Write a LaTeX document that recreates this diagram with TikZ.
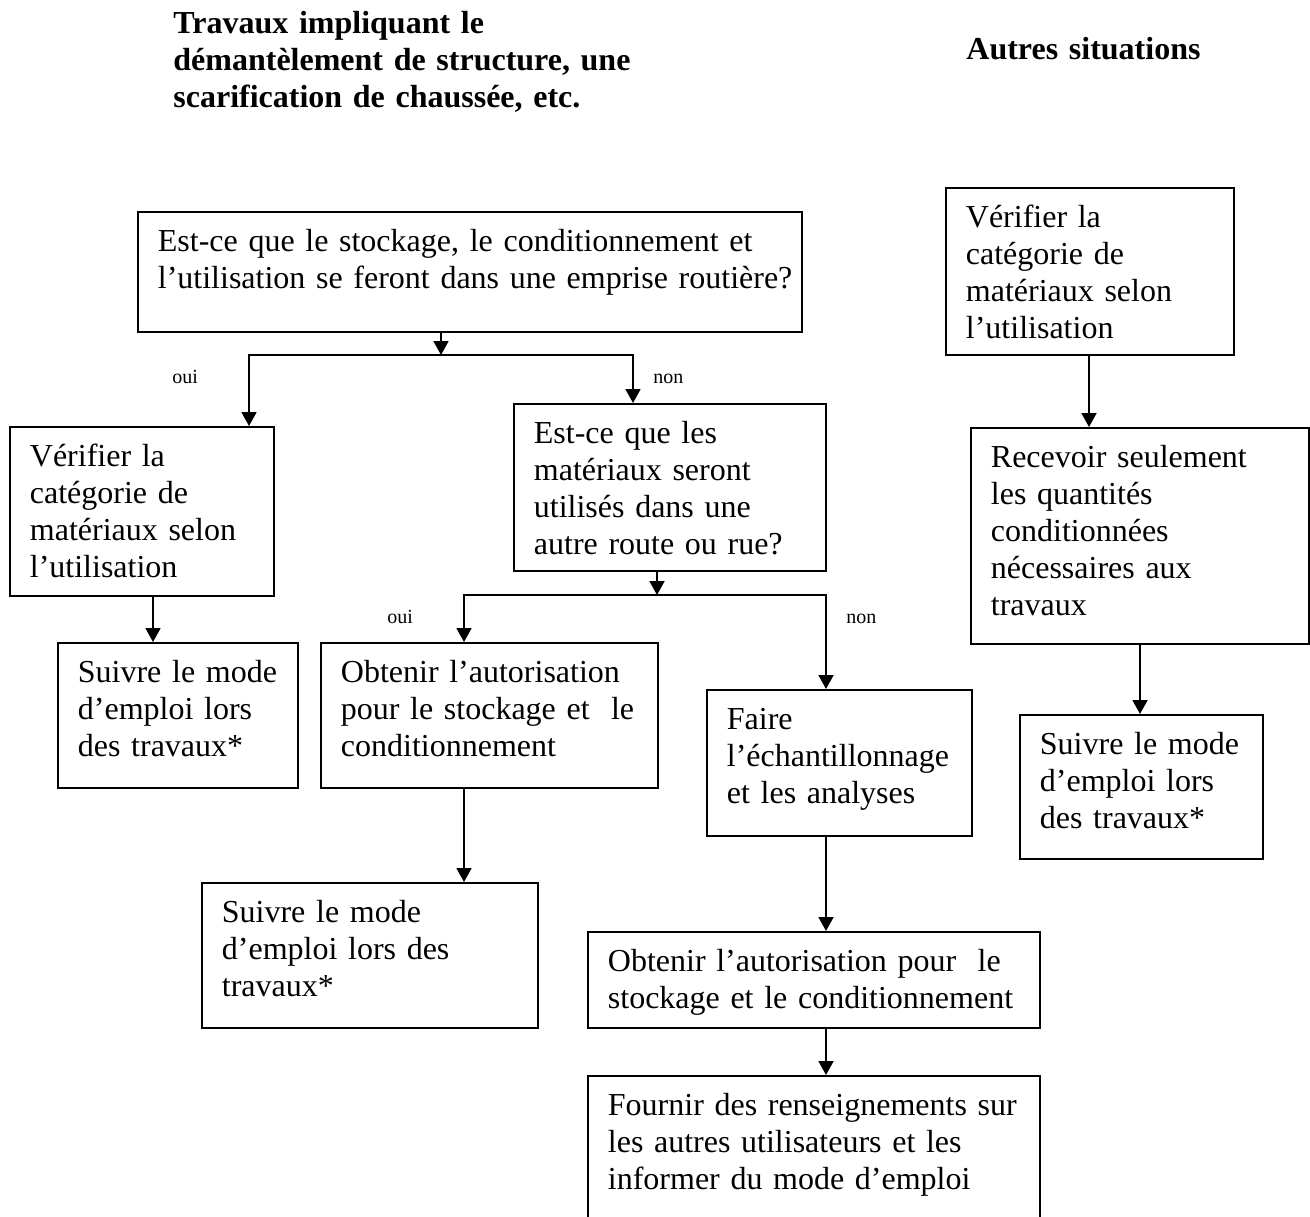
\documentclass[tikz,border=0pt]{standalone}
\usepackage{fontspec}
\setmainfont{Liberation Serif}
\usepackage{tikz}
\usetikzlibrary{arrows.meta}
\tikzset{
    boite/.style={draw, line width=0.9pt, anchor=north west, inner xsep=0pt, inner ysep=0pt,
        align=left, text height=20pt, font=\fontsize{16}{18.5}\selectfont,
        execute at begin node={\leftskip=10pt\relax}},
    titre/.style={anchor=base west, inner sep=0pt, align=left, text width=250pt,
        font=\fontsize{16}{18.5}\selectfont\bfseries},
    etiq/.style={anchor=base west, inner sep=0pt, font=\fontsize{10}{12}\selectfont},
    fleche/.style={line width=0.9pt, -{Triangle[length=7pt,width=7.5pt]}}
}

\begin{document}
\begin{tikzpicture}[x=0.5pt, y=-0.5pt]
    \useasboundingbox (0,0) rectangle (1310,1216);
    \node[titre] (titre1) at (173,33) {Travaux impliquant le\\démantèlement de structure, une\\scarification de chaussée, etc.};
    \node[titre] (titre2) at (966,59) {Autres situations};

    \node[boite, text width=332pt, text depth=40pt] (q1) at (137,211) {Est-ce que le stockage, le conditionnement et\\l’utilisation se feront dans une emprise routière?};
    \node[boite, text width=132pt, text depth=64.5pt] (v1) at (9,426) {Vérifier la\\catégorie de\\matériaux selon\\l’utilisation};
    \node[boite, text width=156pt, text depth=63.5pt] (q2) at (513,403) {Est-ce que les\\matériaux seront\\utilisés dans une\\autre route ou rue?};
    \node[boite, text width=120pt, text depth=52.5pt] (s1) at (57,642) {Suivre le mode\\d’emploi lors\\des travaux*};
    \node[boite, text width=168.5pt, text depth=52.5pt] (o1) at (320,642) {Obtenir l’autorisation\\pour le stockage et\ \ le\\conditionnement};
    \node[boite, text width=132.5pt, text depth=53pt] (f1) at (706,689) {Faire\\l’échantillonnage\\et les analyses};
    \node[boite, text width=168pt, text depth=52.5pt] (s2) at (201,882) {Suivre le mode\\d’emploi lors des\\travaux*};
    \node[boite, text width=226pt, text depth=28pt] (o2) at (587,931) {Obtenir l’autorisation pour\ \ le\\stockage et le conditionnement};
    \node[boite, text width=226pt, text depth=72pt] (fo) at (587,1075) {Fournir des renseignements sur\\les autres utilisateurs et les\\informer du mode d’emploi};
    \node[boite, text width=144pt, text depth=63.5pt] (v3) at (945,187) {Vérifier la\\catégorie de\\matériaux selon\\l’utilisation};
    \node[boite, text width=169pt, text depth=88pt] (r) at (970,427) {Recevoir seulement\\les quantités\\conditionnées\\nécessaires aux\\travaux};
    \node[boite, text width=121.5pt, text depth=52pt] (s3) at (1019,714) {Suivre le mode\\d’emploi lors\\des travaux*};

    \node[etiq] (oui1) at (172,383) {oui};
    \node[etiq] (non1) at (653,383) {non};
    \node[etiq] (oui2) at (387,623) {oui};
    \node[etiq] (non2) at (846,623) {non};

    \coordinate (j1) at (441,355);
    \coordinate (j1g) at (249,355);
    \coordinate (j1d) at (633,355);
    \coordinate (j2) at (657,595);
    \coordinate (j2g) at (464,595);
    \coordinate (j2d) at (826,595);
    \coordinate (c1) at (153,0);
    \coordinate (c2) at (1089,0);
    \coordinate (c3) at (1140,0);

    \draw[fleche] (q1.south -| j1) -- (j1);
    \draw[fleche] (j1) -| (v1.north -| j1g);
    \draw[fleche] (j1) -| (q2.north -| j1d);
    \draw[fleche] (q2.south -| j2) -- (j2);
    \draw[fleche] (j2) -| (o1.north -| j2g);
    \draw[fleche] (j2) -| (f1.north -| j2d);
    \draw[fleche] (v1.south -| c1) -- (s1.north -| c1);
    \draw[fleche] (o1.south -| j2g) -- (s2.north -| j2g);
    \draw[fleche] (f1.south -| j2d) -- (o2.north -| j2d);
    \draw[fleche] (o2.south -| j2d) -- (fo.north -| j2d);
    \draw[fleche] (v3.south -| c2) -- (r.north -| c2);
    \draw[fleche] (r.south -| c3) -- (s3.north -| c3);
\end{tikzpicture}
\end{document}
